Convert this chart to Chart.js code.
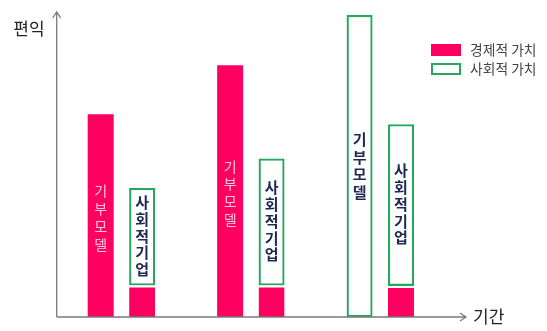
<!DOCTYPE html>
<html>
<head>
<meta charset="utf-8">
<script src="https://cdn.jsdelivr.net/npm/chart.js@4"></script>
<style>
html,body{margin:0;padding:0;background:#fff;}
#wrap{width:547px;height:331px;position:relative;}
</style>
</head>
<body>
<div id="wrap"><canvas id="c" width="547" height="331"></canvas></div>
<script>
// ---- data ----
const categories = ['1', '2', '3'];
const modelLabels = ['기부모델', '사회적기업'];
const yAxisTitle = '편익';
const xAxisTitle = '기간';
const seriesNames = ['경제적 가치', '사회적 가치'];
// donation-model bar (stack A)
const econA   = [67.1, 83.4, null];
const socialA = [null, null, 100];
// social-enterprise bar (stack B)
const econB   = [10.4, 10.4, 10.3];
const socialB = [32.3, 42.1, 53.5];

const PINK = '#fe0060';
const GREEN = '#26a85c';
const NAVY = '#1d2951';
const FONT = '"Noto Sans CJK KR", "Noto Sans", sans-serif';

const common = { categoryPercentage: 0.64, barPercentage: 0.628 };

const overlay = {
  id: 'overlay',
  afterDatasetsDraw(chart) {
    const ctx = chart.ctx;
    const ca = chart.chartArea;
    ctx.save();
    const drawVert = (text, cx, cy, font, color, pitch) => {
      ctx.font = font; ctx.fillStyle = color;
      ctx.textAlign = 'center'; ctx.textBaseline = 'middle';
      const chars = Array.from(text);
      const start = cy - (chars.length - 1) * pitch / 2;
      chars.forEach((ch, i) => ctx.fillText(ch, cx, start + i * pitch));
    };
    const metaEA = chart.getDatasetMeta(0), metaSA = chart.getDatasetMeta(1), metaSB = chart.getDatasetMeta(3);
    categories.forEach((c, i) => {
      if (econA[i] != null) {
        const b = metaEA.data[i];
        drawVert(modelLabels[0], b.x, (b.y + b.base) / 2 + 2, '14px ' + FONT, '#f9c8da', 17.8);
      }
      if (socialA[i] != null) {
        const b = metaSA.data[i];
        drawVert(modelLabels[0], b.x, (b.y + b.base) / 2, 'bold 15px ' + FONT, NAVY, 17.5);
      }
      const s = metaSB.data[i];
      drawVert(modelLabels[1], s.x, (s.y + s.base) / 2 - 1, 'bold 15px ' + FONT, NAVY, 16.8);
    });
    // axes
    const ox = ca.left, oy = ca.bottom;
    ctx.strokeStyle = '#7a7a7a'; ctx.lineWidth = 1.3;
    ctx.beginPath();
    ctx.moveTo(ox, oy); ctx.lineTo(ox, 12);
    ctx.moveTo(ox - 4, 18); ctx.lineTo(ox, 12); ctx.lineTo(ox + 4, 18);
    ctx.moveTo(ox, oy); ctx.lineTo(466, oy);
    ctx.moveTo(460, oy - 4); ctx.lineTo(466, oy); ctx.lineTo(460, oy + 4);
    ctx.stroke();
    ctx.fillStyle = '#222'; ctx.textBaseline = 'middle';
    ctx.font = '17px ' + FONT;
    ctx.textAlign = 'center';
    ctx.fillText(yAxisTitle, 29, 29);
    ctx.textAlign = 'left';
    ctx.fillText(xAxisTitle, 473, 317);
    // legend
    ctx.fillStyle = PINK;
    ctx.fillRect(431, 44, 30, 12);
    ctx.strokeStyle = GREEN; ctx.lineWidth = 2;
    ctx.strokeRect(432, 64, 28, 10);
    ctx.fillStyle = '#444'; ctx.font = '13.8px ' + FONT;
    ctx.fillText(seriesNames[0], 470, 50);
    ctx.fillText(seriesNames[1], 470, 69);
    ctx.restore();
  }
};

new Chart(document.getElementById('c'), {
  type: 'bar',
  data: {
    labels: categories,
    datasets: [
      { label: seriesNames[0], data: econA, stack: 'a', backgroundColor: PINK, borderWidth: 0, ...common },
      { label: seriesNames[1], data: socialA, stack: 'a', backgroundColor: '#fff', borderColor: GREEN, borderWidth: 2.3, borderSkipped: false, ...common },
      { label: seriesNames[0], data: econB, stack: 'b', backgroundColor: PINK, borderColor: '#fff', borderWidth: { top: 2, left: 0, right: 0, bottom: 0 }, borderSkipped: false, ...common },
      { label: seriesNames[1], data: socialB, stack: 'b', backgroundColor: '#fff', borderColor: GREEN, borderWidth: 2.3, borderSkipped: false, ...common }
    ]
  },
  options: {
    responsive: false,
    animation: false,
    layout: { padding: { left: 56.7, right: 102, top: 15, bottom: 14 } },
    plugins: { legend: { display: false }, tooltip: { enabled: false } },
    scales: {
      x: { display: false, stacked: true },
      y: { display: false, stacked: true, min: 0, max: 100 }
    }
  },
  plugins: [overlay]
});
</script>
</body>
</html>
